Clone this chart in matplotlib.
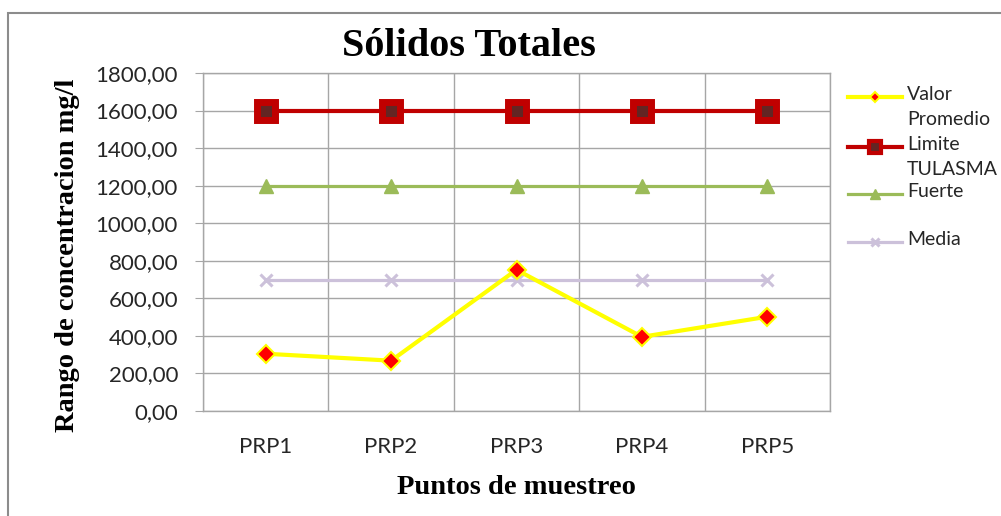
import numpy as np
import matplotlib
matplotlib.use('Agg')
import matplotlib.pyplot as plt
from matplotlib.lines import Line2D
from matplotlib.patches import Rectangle
from matplotlib.ticker import FuncFormatter, MultipleLocator

puntos = ['PRP1', 'PRP2', 'PRP3', 'PRP4', 'PRP5']
valor_promedio = [305, 268, 752, 395, 502]
limite_tulasma = [1600, 1600, 1600, 1600, 1600]
fuerte = [1200, 1200, 1200, 1200, 1200]
media = [700, 700, 700, 700, 700]

tick_font = 'Lato'
serif_font = 'Liberation Serif'
grid_color = '#A6A6A6'

fig = plt.figure(figsize=(10.01, 5.16), dpi=100)
ax = fig.add_axes([0.2028, 0.2035, 0.6264, 0.655])

x = np.arange(len(puntos)) + 0.5

styles = [
    dict(label='Valor\nPromedio', data=valor_promedio, color='#FFFF00', lw=3, marker='D',
         ms=9, mfc='#FF0000', mec='#FFFF00', mew=1.5, z=5, leg_ms=5),
    dict(label='Limite\nTULASMA', data=limite_tulasma, color='#C00000', lw=3, marker='s',
         ms=13.5, mfc='#632523', mec='#C00000', mew=5, z=4, leg_ms=8),
    dict(label='Fuerte', data=fuerte, color='#9BBB59', lw=2.3, marker='^',
         ms=10, mfc='#9BBB59', mec='#9BBB59', mew=1, z=3, leg_ms=7.5),
    dict(label='Media', data=media, color='#CCC1DA', lw=2.3, marker='x',
         ms=8, mfc='#CCC1DA', mec='#CCC1DA', mew=2.2, z=2, leg_ms=6),
]

for s in styles:
    ax.plot(x, s['data'], color=s['color'], lw=s['lw'], marker=s['marker'], ms=s['ms'],
            mfc=s['mfc'], mec=s['mec'], mew=s['mew'], zorder=s['z'], clip_on=False)

ax.set_xlim(0, len(puntos))
ax.set_ylim(0, 1800)
ax.yaxis.set_major_locator(MultipleLocator(200))
ax.yaxis.set_major_formatter(FuncFormatter(lambda v, p: f'{v:.2f}'.replace('.', ',')))
ax.set_xticks(x)
ax.set_xticklabels(puntos)
ax.set_xticks(np.arange(len(puntos) + 1), minor=True)

ax.grid(axis='y', which='major', color=grid_color, lw=1)
ax.grid(axis='x', which='minor', color=grid_color, lw=1)
ax.set_axisbelow(True)
for sp in ax.spines.values():
    sp.set_color(grid_color)
    sp.set_linewidth(1)

ax.tick_params(axis='y', length=6, color=grid_color, pad=12, labelsize=16, labelcolor='#262626')
ax.tick_params(axis='x', which='both', length=0, pad=19, labelsize=16, labelcolor='#262626')
for lab in ax.get_xticklabels() + ax.get_yticklabels():
    lab.set_fontfamily(tick_font)

fig.text(469 / 1001, 1 - 47 / 516, 'Sólidos Totales', ha='center', va='center',
         fontsize=29, fontweight='bold', family=serif_font)
fig.text(68 / 1001, 1 - 255 / 516, 'Rango de concentracion mg/l', ha='center', va='center',
         rotation=90, fontsize=20.5, fontweight='bold', family=serif_font)
fig.text(516 / 1001, 1 - 488 / 516, 'Puntos de muestreo', ha='center', va='center',
         fontsize=20.5, fontweight='bold', family=serif_font)

# legend drawn by hand so the wrapped labels hang below the handle
leg_y = [97, 147, 194, 242]
for s, yy in zip(styles, leg_y):
    yf = 1 - yy / 516
    fig.add_artist(Line2D([848 / 1001, 902 / 1001], [yf, yf], transform=fig.transFigure,
                          color=s['color'], lw=s['lw']))
    fig.add_artist(Line2D([875 / 1001], [yf], transform=fig.transFigure, marker=s['marker'],
                          ms=s['leg_ms'], mfc=s['mfc'], mec=s['mec'],
                          mew=min(s['mew'], 3), lw=0))
    fig.text(907 / 1001, yf + 0.021, s['label'], ha='left', va='top', fontsize=14,
             family=tick_font, color='#262626', linespacing=1.55)

fig.add_artist(Rectangle((8 / 1001, -0.1), 1.2, 1.1 - 13 / 516, transform=fig.transFigure,
                         fill=False, edgecolor='#8C8C8C', lw=1.5))

fig.savefig('out.png', dpi=100)
